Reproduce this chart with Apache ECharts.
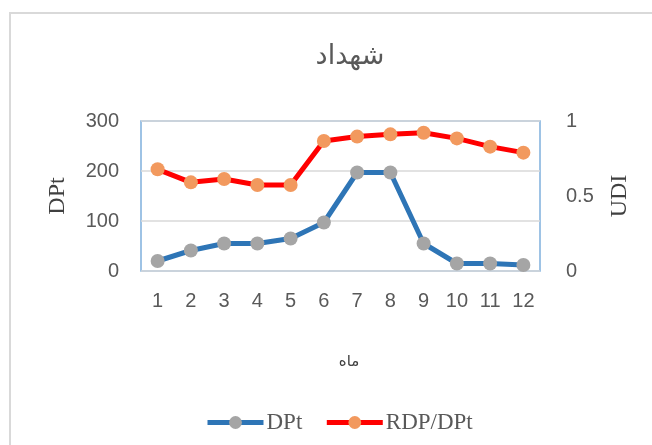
<!DOCTYPE html>
<html><head><meta charset="utf-8">
<script src="https://cdn.jsdelivr.net/npm/echarts@6/dist/echarts.min.js"></script>
<style>html,body{margin:0;padding:0;background:#fff}#c{width:652px;height:445px}</style>
</head><body><div id="c"></div>
<script>
const months = ['1','2','3','4','5','6','7','8','9','10','11','12'];
const dpt = [20, 41, 55, 55, 65, 97, 197, 197, 55, 15, 15, 12];
const rdpDpt = [0.678, 0.591, 0.613, 0.573, 0.573, 0.867, 0.896, 0.911, 0.922, 0.884, 0.829, 0.789];
const titleText = 'شهداد';
const xName = 'ماه';
const leftName = 'DPt';
const rightName = 'UDI';

const chart = echarts.init(document.getElementById('c'), null, {renderer:'canvas'});
chart.setOption({
  animation:false,
  backgroundColor:'#fff',
  graphic:[{type:'rect', shape:{x:10,y:13,width:700,height:500}, style:{fill:'none', stroke:'#d9d9d9', lineWidth:2}, silent:true}],
  title:{text:titleText, left:345, top:38, textAlign:'center', textStyle:{fontFamily:'Noto Sans, DejaVu Sans, sans-serif', fontSize:27, fontWeight:'normal', color:'#595959'}},
  grid:{left:141, right:112, top:121, bottom:174, show:true, borderColor:'#7fb0dd', borderWidth:1.5, backgroundColor:'transparent'},
  legend:{bottom:6, left:200, itemWidth:56, itemHeight:16, itemGap:22,
    lineStyle:{width:5},
    textStyle:{fontFamily:'Liberation Serif, serif', fontSize:23, color:'#595959', padding:[0,0,0,-2]},
    data:[{name:'DPt'},{name:'RDP/DPt'}]},
  xAxis:{type:'category', data:months, boundaryGap:true,
    axisLine:{show:false}, axisTick:{show:false},
    axisLabel:{fontFamily:'Liberation Sans, Arial, sans-serif', fontSize:20, color:'#595959', margin:20},
    name:xName, nameLocation:'middle', nameGap:83,
    nameTextStyle:{fontFamily:'Noto Sans, DejaVu Sans, sans-serif', fontSize:15, color:'#404040', padding:[0,0,0,17]}},
  yAxis:[
    {type:'value', min:0, max:300, interval:100,
     axisLine:{show:false}, axisTick:{show:false},
     splitLine:{lineStyle:{color:'#d9d9d9', width:1.5}},
     axisLabel:{fontFamily:'Liberation Sans, Arial, sans-serif', fontSize:20, color:'#595959', margin:22},
     name:leftName, nameLocation:'middle', nameRotate:90, nameGap:71,
     nameTextStyle:{fontFamily:'Liberation Serif, serif', fontSize:24, color:'#404040'}},
    {type:'value', min:0, max:1, interval:0.5, position:'right',
     axisLine:{show:false}, axisTick:{show:false}, splitLine:{show:false},
     axisLabel:{fontFamily:'Liberation Sans, Arial, sans-serif', fontSize:20, color:'#595959', margin:26},
     name:rightName, nameLocation:'middle', nameRotate:90, nameGap:68,
     nameTextStyle:{fontFamily:'Liberation Serif, serif', fontSize:24, color:'#404040'}}
  ],
  series:[
    {name:'DPt', type:'line', yAxisIndex:0, data:dpt, symbol:'circle', symbolSize:14,
     lineStyle:{color:'#2e75b6', width:5}, itemStyle:{color:'#a5a5a5', borderWidth:0}, color:'#2e75b6', z:2},
    {name:'RDP/DPt', type:'line', yAxisIndex:1, data:rdpDpt, symbol:'circle', symbolSize:14,
     lineStyle:{color:'#ff0000', width:5}, itemStyle:{color:'#f2995e', borderWidth:0}, color:'#ff0000', z:3}
  ]
});
</script></body></html>
